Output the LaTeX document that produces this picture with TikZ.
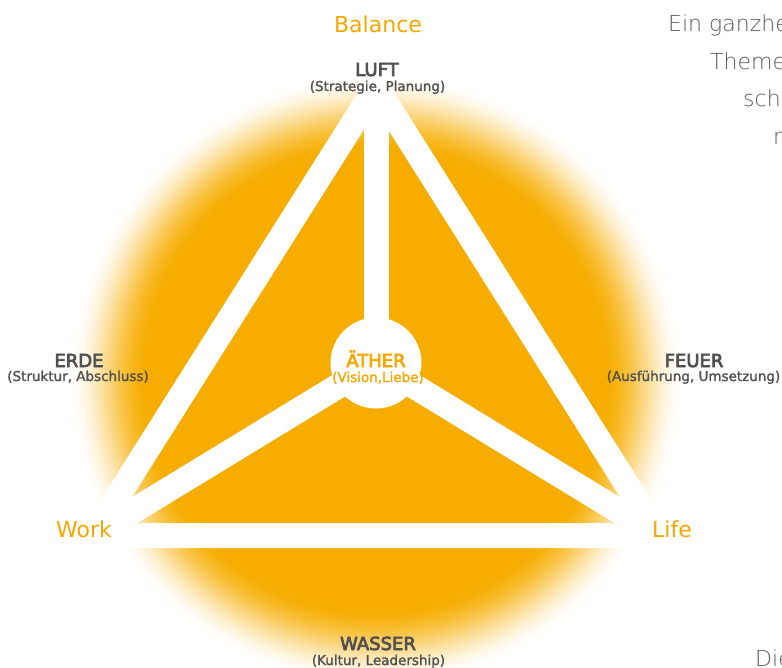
\documentclass[tikz,border=0pt]{standalone}
\usepackage{fontspec}
\setmainfont{DejaVu Sans}
\newfontfamily\thinfont{DejaVu Sans ExtraLight}
\newfontfamily\semifont[FakeBold=4]{DejaVu Sans}
\newfontfamily\subfont[FakeBold=1.5]{DejaVu Sans}
\definecolor{gl}{HTML}{F6AD00}
\definecolor{orng}{HTML}{F5A700}
\definecolor{lblgray}{HTML}{505050}
\definecolor{txtgray}{HTML}{5A5A5A}
\begin{document}
\begin{tikzpicture}[x=1pt,y=-1pt,
  lbl/.style={text=lblgray, font=\semifont\fontsize{18}{20}\selectfont, inner sep=0pt, anchor=base},
  sub/.style={text=lblgray, font=\subfont\fontsize{13.5}{15}\selectfont, inner sep=0pt, anchor=base},
  otext/.style={text=orng, font=\fontsize{22}{24}\selectfont, inner sep=0pt, anchor=base},
  para/.style={text=txtgray, font=\thinfont\fontsize{22}{24}\selectfont, inner sep=0pt, anchor=base west},
  edgeline/.style={white, line width=25pt}]
\useasboundingbox (0,0) rectangle (782,668);
\clip (0,0) rectangle (782,668);
\fill[white] (0,0) rectangle (782,668);
\coordinate (G) at (376,380);
% soft glow: concentric discs
\foreach \r in {308,306,...,228} {
  \pgfmathsetmacro\tt{(308-\r)/80}
  \pgfmathsetmacro\pp{100*\tt*\tt*(3-2*\tt)}
  \fill[gl!\pp!white] (G) circle (\r pt);
}
\fill[gl] (G) circle (227pt);
\coordinate (T) at (376,87);
\coordinate (L) at (93,535.5);
\coordinate (R) at (659,535.5);
\coordinate (C) at (376,363);
\draw[edgeline, line join=miter] (T) -- (L) -- (R) -- cycle;
\draw[edgeline] (C) -- (T);
\draw[edgeline] (C) -- (L);
\draw[edgeline] (C) -- (R);
\node[circle, fill=white, minimum size=91pt, inner sep=0pt] (circ) at (C) {};
% labels
\node[otext] (balance) at (378,33) {Balance};
\node[lbl] (luft) at (377,76) {LUFT};
\node[sub] (luftsub) at (377.5,91) {(Strategie, Planung)};
\node[lbl] (erde) at (79,367) {ERDE};
\node[sub] (erdesub) at (78,381) {(Struktur, Abschluss)};
\node[lbl] (feuer) at (694,367) {FEUER};
\node[sub] (feuersub) at (693.5,381) {(Ausführung, Umsetzung)};
\node[lbl, text=orng] (aether) at (376,367) {ÄTHER};
\node[sub, text=orng] (aethersub) at (378,382) {(Vision,Liebe)};
\node[otext] (work) at (84,537) {Work};
\node[otext] (life) at (672,537) {Life};
\node[lbl] (wasser) at (378,650) {WASSER};
\node[sub] (wassersub) at (378.5,665) {(Kultur, Leadership)};
% cut paragraph text at the right
\node[para] (p1) at (668,32) {Ein ganzhe};
\node[para] (p2) at (710,70) {Theme};
\node[para] (p3) at (743,107) {sch};
\node[para] (p4) at (773,145) {r};
\node[para] (p5) at (755,666) {Die};
\end{tikzpicture}
\end{document}
